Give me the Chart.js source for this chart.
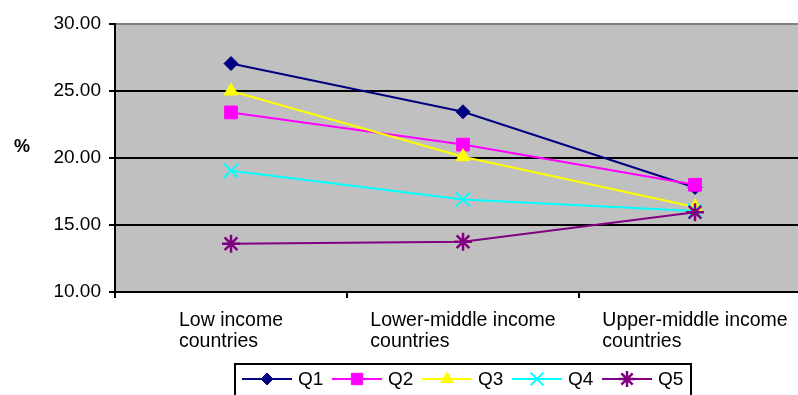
<!DOCTYPE html>
<html>
<head>
<meta charset="utf-8">
<script src="https://cdn.jsdelivr.net/npm/chart.js@4"></script>
<style>
  html, body { margin: 0; padding: 0; background: #fff; overflow: hidden; }
  #wrap { position: relative; width: 823px; height: 395px; }
</style>
</head>
<body>
<div id="wrap"><canvas id="incomeChart"></canvas></div>
<script>
const categories = [
  ['Low income', 'countries'],
  ['Lower-middle income', 'countries'],
  ['Upper-middle income', 'countries']
];
const seriesNames = ['Q1', 'Q2', 'Q3', 'Q4', 'Q5'];
const q1 = [27.05, 23.45, 17.8];
const q2 = [23.4, 21.0, 18.0];
const q3 = [25.0, 20.1, 16.35];
const q4 = [19.05, 16.9, 16.05];
const q5 = [13.6, 13.75, 15.95];
const yTicks = [10, 15, 20, 25, 30];

const FONT = "'Liberation Sans', Arial, sans-serif";

function series(label, data, color, style, radius, bw, order) {
  return {
    label: label,
    data: data,
    order: order,
    borderColor: color,
    backgroundColor: color,
    borderWidth: 2,
    tension: 0,
    pointStyle: style,
    pointRadius: radius,
    pointBackgroundColor: color,
    pointBorderColor: color,
    pointBorderWidth: bw
  };
}

// background, x labels, % label and the boxed legend
const excelLook = {
  id: 'excelLook',
  beforeDraw(chart) {
    const { ctx, chartArea } = chart;
    ctx.save();
    ctx.fillStyle = '#C0C0C0';
    ctx.fillRect(chartArea.left, chartArea.top, chartArea.right - chartArea.left, chartArea.bottom - chartArea.top);
    ctx.restore();
  },
  afterDraw(chart) {
    const { ctx, chartArea } = chart;
    const xs = chart.scales.x;
    ctx.save();
    ctx.fillStyle = '#000';
    ctx.textBaseline = 'alphabetic';
    ctx.textAlign = 'left';
    ctx.font = '19.5px ' + FONT;
    categories.forEach((lines, i) => {
      const cx = xs.getPixelForValue(i);
      const w = Math.max(...lines.map(l => ctx.measureText(l).width));
      lines.forEach((l, j) => ctx.fillText(l, cx - w / 2, xs.top + 34 + j * 21));
    });

    ctx.font = 'bold 18px ' + FONT;
    ctx.textAlign = 'center';
    ctx.textBaseline = 'middle';
    ctx.fillText('%', 22, chartArea.top + 123);

    // legend
    const boxW = 456;
    const left = (chartArea.left + chartArea.right) / 2 - boxW / 2;
    const top = chart.height - 31;
    ctx.strokeStyle = '#000';
    ctx.lineWidth = 2;
    ctx.strokeRect(left, top, boxW, 60);
    ctx.font = '19px ' + FONT;
    ctx.textAlign = 'left';
    chart.data.datasets.forEach((ds, i) => {
      const x0 = left + 7 + i * 90;
      const y = top + 15;
      ctx.strokeStyle = ds.borderColor;
      ctx.lineWidth = 2;
      ctx.beginPath();
      ctx.moveTo(x0, y);
      ctx.lineTo(x0 + 50, y);
      ctx.stroke();
      ctx.fillStyle = ds.pointBackgroundColor;
      ctx.lineWidth = ds.pointBorderWidth;
      Chart.helpers.drawPoint(ctx, {
        pointStyle: ds.pointStyle,
        radius: ds.pointRadius - 1,
        borderWidth: ds.pointBorderWidth,
        rotation: 0
      }, x0 + 25, y);
      ctx.fillStyle = '#000';
      ctx.fillText(ds.label, x0 + 56, y + 1);
    });
    ctx.restore();
  }
};

new Chart(document.getElementById('incomeChart'), {
  type: 'line',
  data: {
    labels: categories.map(c => c.join(' ')),
    datasets: [
      series(seriesNames[0], q1, '#000080', 'rectRot', 7, 1, 5),
      series(seriesNames[1], q2, '#FF00FF', 'rect', 9, 1, 4),
      series(seriesNames[2], q3, '#FFFF00', 'triangle', 8, 1, 3),
      series(seriesNames[3], q4, '#00FFFF', 'crossRot', 10, 2, 2),
      series(seriesNames[4], q5, '#800080', 'star', 9, 2.5, 1)
    ]
  },
  options: {
    responsive: true,
    maintainAspectRatio: false,
    animation: false,
    layout: { padding: { top: 24, right: 4, left: 0, bottom: 0 } },
    plugins: {
      legend: { display: false },
      tooltip: { enabled: false }
    },
    scales: {
      x: {
        offset: true,
        ticks: { display: false },
        grid: {
          offset: true,
          drawOnChartArea: false,
          drawTicks: true,
          tickLength: 6,
          color: '#000',
          lineWidth: 2
        },
        border: { color: '#000', width: 2 },
        afterFit: s => { s.height = 103; }
      },
      y: {
        min: yTicks[0],
        max: yTicks[yTicks.length - 1],
        afterBuildTicks: s => { s.ticks = yTicks.map(v => ({ value: v })); },
        ticks: {
          color: '#000',
          padding: 8,
          font: { size: 19, family: FONT },
          callback: v => Number(v).toFixed(2)
        },
        grid: {
          color: c => (c.tick && c.tick.value === 30 ? '#808080' : '#000'),
          tickColor: '#000',
          lineWidth: 2,
          tickLength: 6
        },
        border: { color: '#000', width: 2 },
        afterFit: s => { s.width = 115; }
      }
    }
  },
  plugins: [excelLook]
});
</script>
</body>
</html>
